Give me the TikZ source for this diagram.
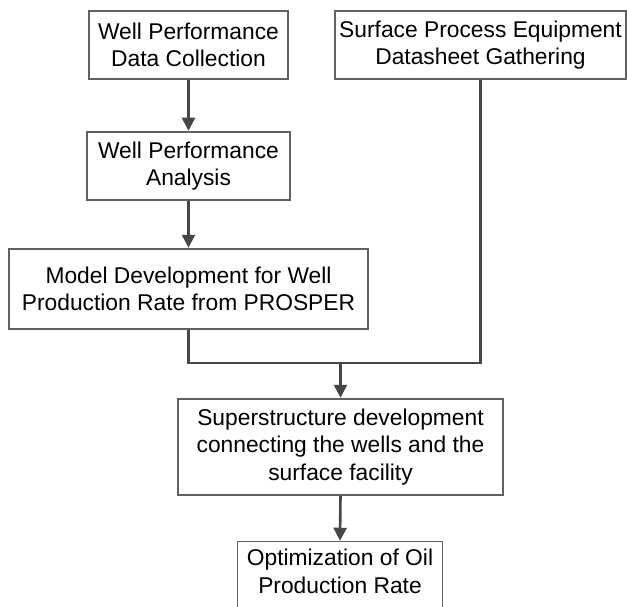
\documentclass[tikz,border=0pt]{standalone}
\usepackage{fontspec}
\setmainfont{Liberation Sans}
\usetikzlibrary{arrows.meta}
\begin{document}
\begin{tikzpicture}[x=1pt,y=-1pt,
  stepbox/.style={draw=black!62, line width=1.3pt, fill=white, inner sep=0pt,
    align=center, font=\fontsize{22.8}{27.5}\selectfont},
  link/.style={draw=black!72, line width=2.6pt},
  flow/.style={link, -{Triangle[length=13pt,width=13pt]}, shorten >=0.6pt}]
\useasboundingbox[fill=white] (0,0) rectangle (627,607);

\node[stepbox, minimum width=199pt, minimum height=68pt] (b1) at (188.5,45)
  {Well Performance\\Data Collection};
\node[stepbox, minimum width=291pt, minimum height=68pt] (b2) at (480.5,45)
  {Surface Process Equipment\\Datasheet Gathering};
\node[stepbox, minimum width=203pt, minimum height=68pt] (b3) at (188.5,166)
  {Well Performance\\Analysis};
\node[stepbox, minimum width=359pt, minimum height=80pt] (b4) at (188.5,289)
  {Model Development for Well\\Production Rate from PROSPER};
\node[stepbox, minimum width=325pt, minimum height=96pt] (b5) at (340.5,447)
  {Superstructure development\\connecting the wells and the\\surface facility};
% last box runs past the lower edge, so only its top and sides are drawn
\node[stepbox, draw=none, minimum width=204pt, minimum height=59pt] (b6) at (340,571.5)
  {Optimization of Oil\\Production Rate};
\draw[draw=black!62, line width=1.3pt]
  ([yshift=-30pt]b6.south west) -- (b6.north west) -- (b6.north east) -- ([yshift=-30pt]b6.south east);

\coordinate (j) at (340.5,363);
\draw[flow] (b1.south) -- (b3.north);
\draw[flow] (b3.south) -- (b4.north);
\draw[link] (b4.south) |- (j);
\draw[link] (b2.south) |- (j);
\draw[flow] (j) -- (b5.north);
\draw[flow] (b5.south) -- (b6.north);
\end{tikzpicture}
\end{document}
